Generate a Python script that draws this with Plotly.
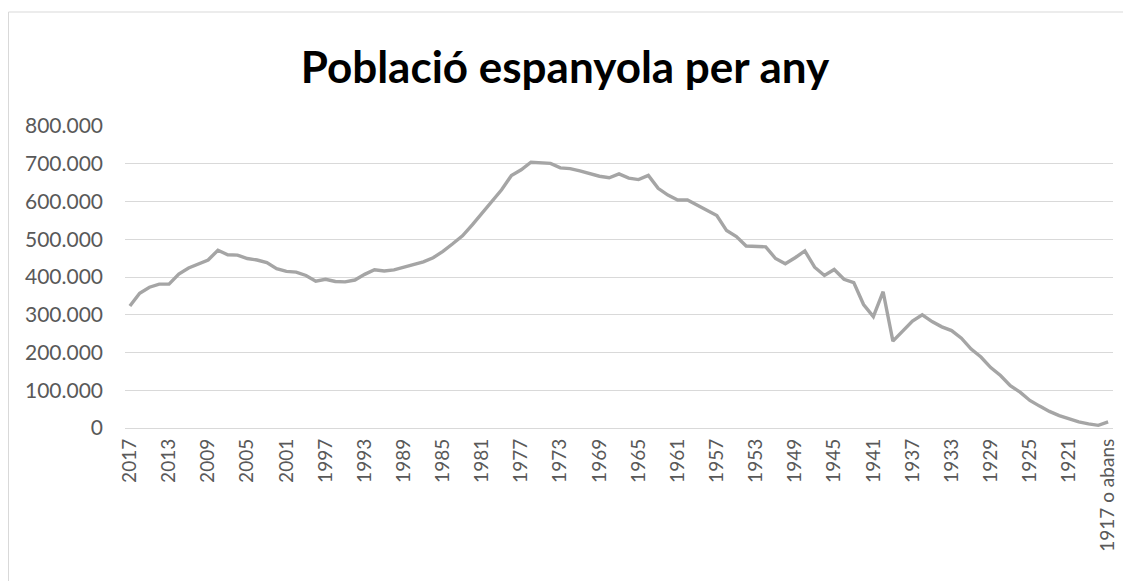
import plotly.graph_objects as go

years = [str(y) for y in range(2017, 1917, -1)] + ["1917 o abans"]

poblacio = [
    323000, 357000, 373000, 381000, 381000, 408000, 424000, 435000, 445000, 471000,
    459000, 458000, 449000, 445000, 438000, 422000, 415000, 413000, 404000, 389000,
    394000, 388000, 387000, 392000, 407000, 419000, 416000, 419000, 426000, 433000,
    440000, 451000, 468000, 488000, 509000, 538000, 569000, 602000, 631000, 669000,
    684000, 704000, 703000, 701000, 689000, 687000, 681000, 673000, 667000, 663000,
    673000, 662000, 658000, 669000, 635000, 617000, 604000, 604000, 591000, 578000,
    563000, 523000, 507000, 482000, 482000, 480000, 449000, 435000, 451000, 469000,
    426000, 404000, 420000, 394000, 385000, 327000, 295000, 361000, 230000, 257000,
    283000, 300000, 282000, 268000, 258000, 238000, 209000, 188000, 160000, 139000,
    112000, 95000, 73000, 58000, 44000, 33000, 24000, 16000, 11000, 7000,
    16000,
]

tick_labels = years[::4]
y_ticks = [0, 100000, 200000, 300000, 400000, 500000, 600000, 700000, 800000]

title_text = "Població espanyola per any"

FONT = "Lato, Carlito, Calibri, 'Liberation Sans', sans-serif"

# page is offset by the browser's 8px body margin; layout below compensates
OFF = 8
W, H = 1131, 581
PL, PR, PT, PB = 125, 1113, 126, 428  # plot area in page pixels
pw, ph = PR - PL, PB - PT

fig = go.Figure()
fig.add_trace(go.Scatter(
    x=years, y=poblacio, mode="lines",
    line=dict(color="#A5A5A5", width=3.4),
    hoverinfo="x+y", showlegend=False,
))

fig.update_layout(
    width=W, height=H,
    margin=dict(l=PL - OFF, r=W - (PR - OFF), t=PT - OFF, b=H - (PB - OFF)),
    paper_bgcolor="white", plot_bgcolor="white",
    separators=",.",
    font=dict(family=FONT, color="#595959", size=18),
    title=dict(
        text="<b>" + title_text + "</b>",
        x=(565 - OFF) / W, xref="container", xanchor="center",
        y=1 - (68 - OFF) / H, yref="container", yanchor="middle",
        font=dict(family=FONT, size=44, color="#000000"),
    ),
    xaxis=dict(
        type="category",
        categoryorder="array", categoryarray=years,
        range=[-0.5, len(years) - 0.5],
        tickmode="array", tickvals=tick_labels, ticktext=tick_labels,
        tickangle=-90,
        showgrid=False, showline=False, zeroline=False,
        ticks="", ticklen=0,
        ticklabelstandoff=6,
        tickfont=dict(family=FONT, size=19, color="#595959"),
    ),
    yaxis=dict(
        range=[0, 800000],
        tickmode="array", tickvals=y_ticks,
        tickformat=",d",
        showgrid=True, gridcolor="#D9D9D9", gridwidth=1,
        zeroline=True, zerolinecolor="#D9D9D9", zerolinewidth=1,
        showline=False, ticks="",
        ticklabelstandoff=21,
        tickfont=dict(family=FONT, size=21, color="#595959"),
    ),
    shapes=[dict(
        type="rect", xref="paper", yref="paper",
        x0=(8.5 - PL) / pw, x1=(1124 - PL) / pw,
        y0=(PB - 620) / ph, y1=(PB - 12) / ph,
        line=dict(color="#D9D9D9", width=1), fillcolor="rgba(0,0,0,0)",
        layer="below",
    )],
)

fig.write_html("out.html")
